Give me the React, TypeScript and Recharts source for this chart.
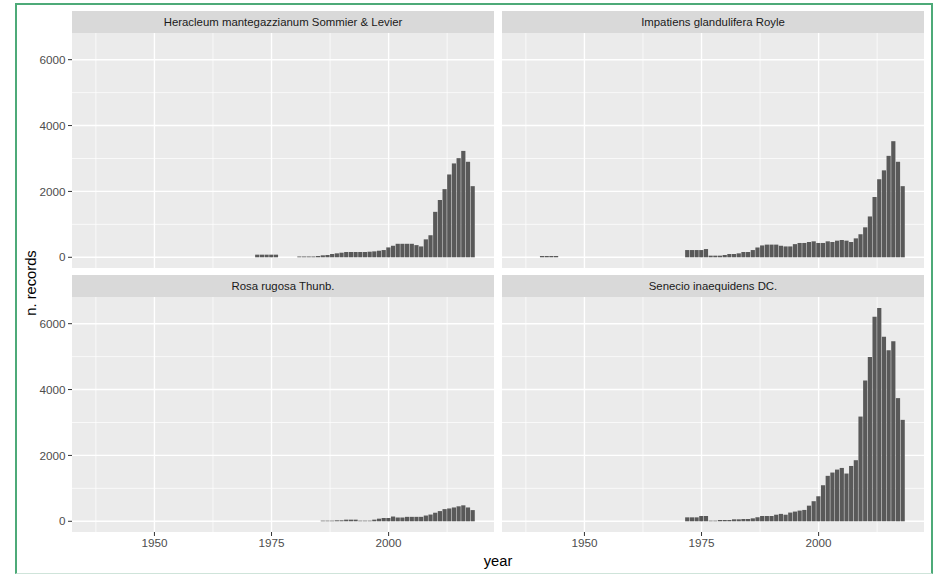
import React from 'react'
import { BarChart, Bar, XAxis, YAxis, CartesianGrid } from 'recharts'

// consecutive year categories
const span = (from: number, to: number) => {
  const out: number[] = []
  for (let y = from; y <= to; y++) out.push(y)
  return out
}

const heracleumYears = [...span(1972, 1976), ...span(1981, 2018)]
const heracleumCounts = [
  80, 80, 80, 80, 80,
  25, 25, 25, 25, 40, 60, 70, 100, 120, 140, 160, 160, 160, 160, 160, 170, 180, 200, 220,
  300, 350, 410, 410, 410, 410, 370, 330, 545, 670, 1380, 1740, 2070, 2515, 2850, 3010, 3230, 2900, 2160,
]

const impatiensYears = [...span(1941, 1944), ...span(1972, 2018)]
const impatiensCounts = [
  40, 40, 40, 40,
  220, 220, 220, 220, 250, 50, 50, 50, 70, 100, 100, 120, 160, 160, 220, 300, 360, 385, 385, 385,
  350, 330, 330, 400, 435, 435, 465, 485, 435, 435, 485, 465, 505, 525, 505, 465, 575, 700, 910, 1240,
  1830, 2370, 2640, 3080, 3525, 2900, 2160,
]

const rosaYears = span(1986, 2018)
const rosaCounts = [
  20, 20, 20, 30, 30, 50, 50, 50, 20, 20, 20, 50, 80, 100, 100, 145, 115, 115, 135, 135,
  135, 135, 175, 205, 260, 310, 370, 390, 420, 455, 485, 420, 340,
]

const senecioYears = span(1972, 2018)
const senecioCounts = [
  120, 120, 120, 160, 160, 20, 20, 40, 40, 40, 60, 60, 70, 70, 90, 120, 160, 160, 160, 200,
  225, 200, 265, 295, 325, 345, 475, 610, 760, 1095, 1380, 1480, 1570, 1620, 1450, 1680, 1855,
  3180, 4275, 4985, 6210, 6475, 5600, 5190, 5470, 3740, 3080,
]

const xTicks = [1950, 1975, 2000]
const xMinor = [1937.5, 1962.5, 1987.5, 2012.5]
const yTicks = [0, 2000, 4000, 6000]
const yMinor = [1000, 3000, 5000]

const X_DOMAIN = [1932.4, 2022.5]
const Y_DOMAIN = [-325, 6810]

const FONT = '"Liberation Sans", Arial, sans-serif'
const PANEL_W = 422
const PANEL_H = 235
const Y_AXIS_W = 40
const X_AXIS_H = 24

const toRows = (years: number[], counts: number[]) =>
  years.map((year, i) => ({ year, n: counts[i] }))

interface PanelProps {
  title: string
  years: number[]
  counts: number[]
  left: number
  top: number
  showY: boolean
  showX: boolean
}

function Panel({ title, years, counts, left, top, showY, showX }: PanelProps) {
  const data = toRows(years, counts)
  const tickStyle = { fill: '#4D4D4D', fontSize: 11.7, fontFamily: FONT }
  return (
    <>
      <div
        style={{
          position: 'absolute',
          left,
          top: top - 22,
          width: PANEL_W,
          height: 22,
          lineHeight: '22px',
          background: '#D9D9D9',
          color: '#1A1A1A',
          fontFamily: FONT,
          fontSize: 11.4,
          textAlign: 'center',
        }}
      >
        {title}
      </div>
      <div style={{ position: 'absolute', left: showY ? left - Y_AXIS_W : left, top }}>
        <BarChart
          width={PANEL_W + (showY ? Y_AXIS_W : 0)}
          height={PANEL_H + (showX ? X_AXIS_H : 0)}
          data={data}
          margin={{ top: 0, right: 0, bottom: 0, left: 0 }}
          barSize={4.2}
        >
          <CartesianGrid
            fill="#EBEBEB"
            stroke="#FFFFFF"
            strokeWidth={0.7}
            horizontalValues={yMinor}
            verticalValues={xMinor}
          />
          <CartesianGrid
            stroke="#FFFFFF"
            strokeWidth={1.4}
            horizontalValues={yTicks}
            verticalValues={xTicks}
          />
          <XAxis
            dataKey="year"
            type="number"
            domain={X_DOMAIN}
            allowDataOverflow
            ticks={xTicks}
            interval={0}
            hide={!showX}
            height={X_AXIS_H}
            axisLine={false}
            tickSize={4}
            tickMargin={3}
            tickLine={{ stroke: '#333333' }}
            tick={tickStyle}
          />
          <YAxis
            type="number"
            domain={Y_DOMAIN}
            allowDataOverflow
            ticks={yTicks}
            interval={0}
            hide={!showY}
            width={Y_AXIS_W}
            axisLine={false}
            tickSize={4}
            tickMargin={2.5}
            tickLine={{ stroke: '#333333' }}
            tick={tickStyle}
          />
          <Bar dataKey="n" fill="#595959" isAnimationActive={false} />
        </BarChart>
      </div>
    </>
  )
}

export default function App() {
  return (
    <div
      style={{
        position: 'absolute',
        left: 0,
        top: 0,
        width: 934,
        height: 574,
        background: '#FFFFFF',
        overflow: 'hidden',
      }}
    >
      <div
        style={{
          position: 'absolute',
          left: 15,
          top: 3,
          width: 918,
          height: 571,
          boxSizing: 'border-box',
          border: '2px solid #4DAA78',
          borderBottom: '1px solid #CFE4DA',
        }}
      />
      <svg width={934} height={574} style={{ position: 'absolute', left: 0, top: 0 }}>
        <text
          x={31}
          y={283}
          transform="rotate(-90 31 283)"
          textAnchor="middle"
          dominantBaseline="central"
          fontFamily={FONT}
          fontSize={14.7}
          fill="#000000"
        >
          n. records
        </text>
        <text
          x={498}
          y={561}
          textAnchor="middle"
          dominantBaseline="central"
          fontFamily={FONT}
          fontSize={14.7}
          fill="#000000"
        >
          year
        </text>
      </svg>
      <Panel
        title="Heracleum mantegazzianum Sommier & Levier"
        years={heracleumYears}
        counts={heracleumCounts}
        left={72}
        top={33}
        showY
        showX={false}
      />
      <Panel
        title="Impatiens glandulifera Royle"
        years={impatiensYears}
        counts={impatiensCounts}
        left={502}
        top={33}
        showY={false}
        showX={false}
      />
      <Panel
        title="Rosa rugosa Thunb."
        years={rosaYears}
        counts={rosaCounts}
        left={72}
        top={297}
        showY
        showX
      />
      <Panel
        title="Senecio inaequidens DC."
        years={senecioYears}
        counts={senecioCounts}
        left={502}
        top={297}
        showY={false}
        showX
      />
    </div>
  )
}
